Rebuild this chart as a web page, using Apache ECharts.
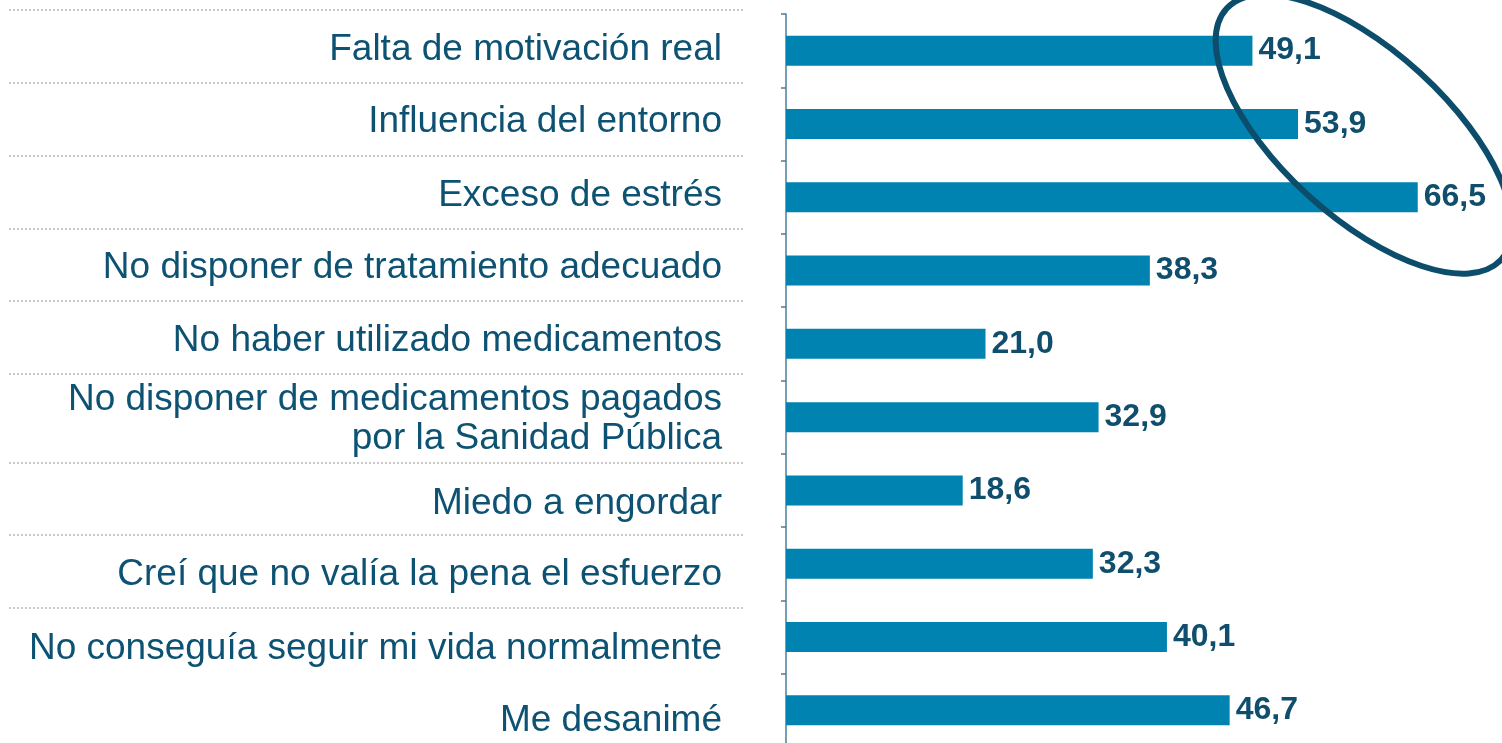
<!DOCTYPE html>
<html>
<head>
<meta charset="utf-8">
<script src="https://cdn.jsdelivr.net/npm/echarts@6/dist/echarts.min.js"></script>
<style>
  html, body { margin: 0; padding: 0; background: #fff; }
  #chart { width: 1502px; height: 743px; }
</style>
</head>
<body>
<div id="chart"></div>
<script>
// categorías (de arriba a abajo)
const categories = [
  'Falta de motivación real',
  'Influencia del entorno',
  'Exceso de estrés',
  'No disponer de tratamiento adecuado',
  'No haber utilizado medicamentos',
  'No disponer de medicamentos pagados\npor la Sanidad Pública',
  'Miedo a engordar',
  'Creí que no valía la pena el esfuerzo',
  'No conseguía seguir mi vida normalmente',
  'Me desanimé'
]
const values = [49.1, 53.9, 66.5, 38.3, 21.0, 32.9, 18.6, 32.3, 40.1, 46.7]

// desplazamiento vertical de cada etiqueta (px, + hacia abajo)
const labelShift = [-1, -2, -1, -3, -3, 8, 13, 11, 12, 10]

// líneas punteadas separadoras (decoración)
const separatorY = [10, 83, 156, 229, 301, 374, 463, 535, 608]

const textColor = '#0d5272'
const barColor = '#0083b0'
const font = '"Liberation Sans", Arial, sans-serif'

const chart = echarts.init(document.getElementById('chart'))

const separators = separatorY.map(y => ({
  type: 'line',
  shape: { x1: 9, y1: y, x2: 744, y2: y },
  style: { stroke: '#c9c9c9', lineWidth: 2, lineDash: [2, 2] },
  silent: true
}))

// estilos rich por etiqueta: relleno arriba en la primera línea baja el texto,
// relleno abajo lo sube; la segunda línea usa un interlineado mayor
const baseText = { color: textColor, fontSize: 37, fontFamily: font, lineHeight: 44 }
const rich = {
  g: Object.assign({}, baseText, { lineHeight: 50 })
}
labelShift.forEach((d, i) => {
  rich['t' + i] = Object.assign({}, baseText, {
    padding: [Math.max(0, 2 * d), 0, Math.max(0, -2 * d), 0]
  })
})

const labelFormatter = (value, index) => {
  const lines = value.split('\n')
  return lines.map((line, k) => '{' + (k === 0 ? 't' + index : 'g') + '|' + line + '}').join('\n')
}

const option = {
  animation: false,
  grid: {
    left: 786,
    top: 14,
    width: 712.5,
    height: 733,
    containLabel: false,
    outerBoundsMode: 'none'
  },
  xAxis: {
    type: 'value',
    min: 0,
    max: 75,
    show: false
  },
  yAxis: {
    type: 'category',
    inverse: true,
    data: categories,
    axisLine: { show: true, lineStyle: { color: '#4a7e9a', width: 1.5 } },
    axisTick: { show: true, length: 5, lineStyle: { color: '#4a7e9a', width: 1.5 } },
    axisLabel: {
      margin: 64,
      color: textColor,
      fontSize: 37,
      fontFamily: font,
      lineHeight: 44,
      align: 'right',
      formatter: labelFormatter,
      rich: rich
    },
    splitLine: { show: false }
  },
  series: [
    {
      type: 'bar',
      data: values,
      barWidth: 30,
      itemStyle: { color: barColor },
      label: {
        show: true,
        position: 'right',
        distance: 6,
        color: '#0f4e6d',
        fontWeight: 'bold',
        fontSize: 32,
        fontFamily: font,
        formatter: p => p.value.toFixed(1).replace('.', ',')
      }
    }
  ],
  graphic: separators.concat([
    {
      type: 'ellipse',
      x: 1364,
      y: 134,
      rotation: -0.74,
      shape: { cx: 0, cy: 0, rx: 186, ry: 83 },
      style: { fill: 'none', stroke: '#0c4d6b', lineWidth: 6 },
      silent: true,
      z: 100
    }
  ])
}

chart.setOption(option)
</script>
</body>
</html>
